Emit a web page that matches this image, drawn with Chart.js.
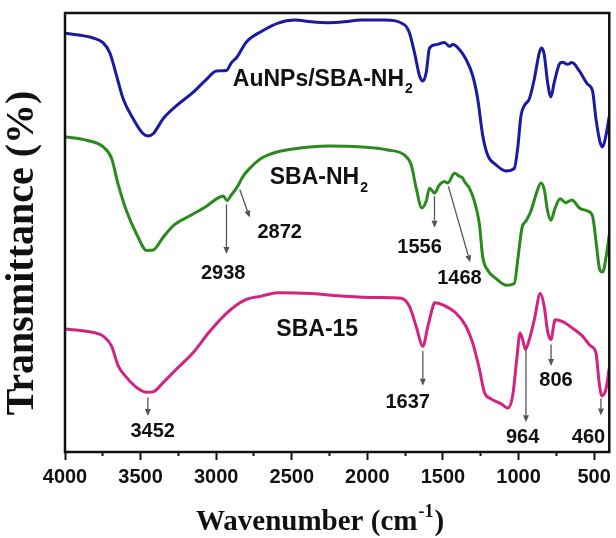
<!DOCTYPE html>
<html lang="en">
<head>
  <meta charset="UTF-8">
  <title>FTIR spectra</title>
  <script src="https://cdn.jsdelivr.net/npm/chart.js"></script>
  <style>
    html, body { margin: 0; padding: 0; background: #fff; }
    #wrap { width: 616px; height: 538px; }
  </style>
</head>
<body>
<div id="wrap"><canvas id="myChart"></canvas></div>
<script>
// wavenumber (cm-1) and transmittance (stacked, arbitrary units)
const auWavenumber = [4000, 3813, 3747, 3703, 3659, 3615, 3549, 3483, 3450, 3417, 3351, 3262, 3153, 3064, 2998, 2932, 2899, 2866, 2800, 2701, 2591, 2481, 2371, 2261, 2151, 2040, 1886, 1754, 1721, 1688, 1655, 1633, 1611, 1589, 1545, 1490, 1457, 1435, 1391, 1347, 1303, 1270, 1237, 1204, 1149, 1083, 1028, 1006, 984, 962, 929, 896, 863, 847, 830, 808, 786, 764, 731, 709, 676, 647, 598, 544, 511, 488, 462, 444, 422, 400];
const auTransmittance = [95.4, 94.3, 93.2, 90.9, 85.7, 80.4, 75.9, 72.5, 72.0, 72.5, 75.9, 78.9, 81.9, 84.9, 86.8, 86.9, 88.7, 89.8, 93.4, 95.8, 97.7, 98.4, 98.0, 97.8, 98.0, 98.4, 98.4, 97.3, 95.4, 90.9, 85.7, 84.5, 86.4, 92.0, 92.8, 93.3, 92.4, 92.8, 91.7, 89.4, 85.7, 80.4, 72.1, 67.6, 65.4, 64.0, 64.6, 69.1, 76.6, 78.9, 80.4, 84.9, 90.9, 92.0, 90.5, 84.2, 80.9, 84.2, 88.3, 88.8, 88.3, 88.7, 86.8, 83.8, 82.3, 75.9, 70.7, 69.5, 72.1, 76.5];

const nh2Wavenumber = [4000, 3857, 3747, 3692, 3648, 3593, 3526, 3460, 3417, 3351, 3285, 3174, 3064, 2987, 2954, 2928, 2899, 2866, 2822, 2778, 2701, 2591, 2481, 2261, 2040, 1865, 1754, 1710, 1677, 1640, 1611, 1589, 1556, 1523, 1490, 1468, 1424, 1391, 1369, 1358, 1325, 1292, 1259, 1237, 1204, 1149, 1083, 1028, 1006, 977, 951, 918, 885, 852, 830, 808, 786, 758, 725, 687, 647, 598, 544, 511, 488, 462, 444, 418, 400];
const nh2Transmittance = [71.8, 71.0, 69.5, 66.9, 60.9, 54.9, 49.6, 45.9, 46.0, 48.9, 51.5, 53.8, 56.0, 57.9, 58.3, 57.3, 58.6, 60.1, 62.8, 64.6, 66.9, 68.4, 69.1, 69.7, 69.5, 68.8, 67.6, 65.4, 60.1, 55.6, 57.1, 60.1, 59.0, 60.9, 61.6, 61.3, 63.5, 62.8, 62.4, 61.6, 60.1, 57.1, 51.9, 44.4, 41.4, 39.5, 38.0, 38.4, 43.6, 51.1, 52.6, 54.9, 58.6, 61.3, 59.8, 54.9, 52.8, 55.6, 57.7, 56.8, 57.4, 55.6, 54.9, 53.8, 48.1, 41.4, 41.0, 45.1, 49.5];

const sbaWavenumber = [4000, 3857, 3747, 3692, 3648, 3593, 3526, 3460, 3417, 3351, 3262, 3153, 3042, 2932, 2811, 2701, 2591, 2371, 2151, 1931, 1777, 1721, 1677, 1633, 1600, 1567, 1556, 1501, 1413, 1347, 1303, 1259, 1226, 1182, 1116, 1072, 1039, 1012, 990, 973, 955, 929, 896, 856, 830, 808, 786, 758, 709, 643, 577, 522, 488, 467, 449, 422, 400];
const sbaTransmittance = [28.0, 27.5, 26.4, 24.1, 19.6, 17.0, 14.7, 13.6, 13.7, 15.8, 18.9, 22.6, 27.5, 31.6, 34.6, 35.5, 36.3, 36.1, 35.5, 35.2, 35.0, 33.1, 28.6, 24.1, 28.6, 33.1, 34.0, 33.5, 31.6, 28.6, 24.8, 18.9, 13.6, 12.1, 11.0, 10.0, 12.8, 21.1, 27.1, 25.6, 23.4, 25.6, 30.1, 36.1, 33.1, 27.5, 25.6, 30.1, 29.7, 28.2, 26.4, 24.1, 22.6, 15.8, 12.8, 14.3, 19.2];

const seriesNames = ['AuNPs/SBA-NH\u2082', 'SBA-NH\u2082', 'SBA-15'];
const tickLabels = [4000, 3500, 3000, 2500, 2000, 1500, 1000, 500];
const minorTicks = [3750, 3250, 2750, 2250, 1750, 1250, 750];
const peakLabels = ['3452', '2938', '2872', '1556', '1468', '1637', '964', '806', '460'];

// where the names and peak arrows sit (data units)
const tags = [
  { text: 'AuNPs/SBA-NH', sub: '2', x: 2890, y: 84.9 },
  { text: 'SBA-NH', sub: '2', x: 2646, y: 62.4 },
  { text: 'SBA-15', sub: '', x: 2602, y: 27.9 }
];
const arrows = [
  { from: [3452, 12.4], to: [3452, 8.2], at: [3420, 4.6] },
  { from: [2932, 56.4], to: [2932, 45.1], at: [2954, 40.6] },
  { from: [2844, 59.8], to: [2778, 53.4], at: [2580, 50.0] },
  { from: [1556, 58.3], to: [1556, 51.1], at: [1655, 46.6] },
  { from: [1464, 60.5], to: [1320, 43.2], at: [1391, 39.5] },
  { from: [1633, 23.0], to: [1633, 15.1], at: [1733, 11.3] },
  { from: [951, 24.1], to: [951, 6.8], at: [973, 3.4] },
  { from: [785, 24.5], to: [785, 19.6], at: [752, 16.2] },
  { from: [455, 12.2], to: [455, 8.3], at: [537, 3.4] }
];

const sans = '"Liberation Sans", Arial, sans-serif';
const serif = '"Liberation Serif", "Times New Roman", serif';

function pairs(xs, ys) {
  return xs.map((v, i) => ({ x: v, y: ys[i] }));
}

function drawArrow(ctx, x1, y1, x2, y2) {
  const ang = Math.atan2(y2 - y1, x2 - x1), h = 7, w = 3;
  ctx.beginPath();
  ctx.moveTo(x1, y1);
  ctx.lineTo(x2 - h * Math.cos(ang), y2 - h * Math.sin(ang));
  ctx.stroke();
  ctx.beginPath();
  ctx.moveTo(x2, y2);
  ctx.lineTo(x2 - h * Math.cos(ang) + w * Math.sin(ang), y2 - h * Math.sin(ang) - w * Math.cos(ang));
  ctx.lineTo(x2 - h * Math.cos(ang) - w * Math.sin(ang), y2 - h * Math.sin(ang) + w * Math.cos(ang));
  ctx.closePath();
  ctx.fill();
}

const notesPlugin = {
  id: 'notes',
  afterDatasetsDraw(chart) {
    const { ctx, chartArea: a, scales: { x, y } } = chart;
    ctx.save();
    ctx.lineWidth = 2.5;
    ctx.strokeStyle = '#111';
    ctx.strokeRect(a.left, a.top, a.right - a.left, a.bottom - a.top);

    ctx.fillStyle = '#111';
    ctx.textBaseline = 'middle';
    ctx.textAlign = 'left';
    tags.forEach(t => {
      const px = x.getPixelForValue(t.x), py = y.getPixelForValue(t.y);
      ctx.font = 'bold 23px ' + sans;
      ctx.fillText(t.text, px, py);
      if (t.sub) {
        const w = ctx.measureText(t.text).width;
        ctx.font = 'bold 14px ' + sans;
        ctx.fillText(t.sub, px + w + 1, py + 10);
      }
    });

    ctx.strokeStyle = '#555';
    ctx.fillStyle = '#555';
    ctx.lineWidth = 1.3;
    arrows.forEach(ar => {
      drawArrow(ctx, x.getPixelForValue(ar.from[0]), y.getPixelForValue(ar.from[1]),
        x.getPixelForValue(ar.to[0]), y.getPixelForValue(ar.to[1]));
    });
    ctx.fillStyle = '#111';
    ctx.textAlign = 'center';
    ctx.font = 'bold 20px ' + sans;
    arrows.forEach((ar, i) => {
      ctx.fillText(peakLabels[i], x.getPixelForValue(ar.at[0]), y.getPixelForValue(ar.at[1]));
    });

    // axis titles
    ctx.textAlign = 'left';
    ctx.textBaseline = 'alphabetic';
    ctx.font = 'bold 29px ' + serif;
    const main = 'Wavenumber (cm', sup = '-1', tail = ')';
    ctx.font = 'bold 18px ' + serif;
    const wSup = ctx.measureText(sup).width;
    ctx.font = 'bold 29px ' + serif;
    const wMain = ctx.measureText(main).width, wTail = ctx.measureText(tail).width;
    let tx = 320 - (wMain + wSup + wTail + 2) / 2;
    const ty = 530;
    ctx.fillText(main, tx, ty);
    tx += wMain + 1;
    ctx.font = 'bold 18px ' + serif;
    ctx.fillText(sup, tx, ty - 13);
    tx += wSup + 1;
    ctx.font = 'bold 29px ' + serif;
    ctx.fillText(tail, tx, ty);

    ctx.translate(23, 253);
    ctx.rotate(-Math.PI / 2);
    ctx.textAlign = 'center';
    ctx.textBaseline = 'middle';
    ctx.font = 'bold 40px ' + serif;
    ctx.fillText('Transmittance (%)', 0, 0);
    ctx.restore();
  }
};

const line = (label, data, color) => ({
  label: label,
  data: data,
  borderColor: color,
  borderWidth: 3,
  pointRadius: 0,
  fill: false,
  cubicInterpolationMode: 'monotone'
});

const ctx = document.getElementById('myChart').getContext('2d');
const chart = new Chart(ctx, {
  type: 'line',
  data: {
    datasets: [
      line(seriesNames[0], pairs(auWavenumber, auTransmittance), '#1a1aa2'),
      line(seriesNames[1], pairs(nh2Wavenumber, nh2Transmittance), '#2a8a1e'),
      line(seriesNames[2], pairs(sbaWavenumber, sbaTransmittance), '#d42280')
    ]
  },
  options: {
    responsive: true,
    maintainAspectRatio: false,
    animation: false,
    layout: { padding: { top: 13, right: 6, left: 65, bottom: 44 } },
    plugins: { legend: { display: false }, tooltip: { enabled: false } },
    scales: {
      x: {
        type: 'linear',
        reverse: true,
        min: 400,
        max: 4000,
        border: { display: false },
        afterBuildTicks: scale => {
          scale.ticks = tickLabels.concat(minorTicks)
            .sort((p, q) => q - p)
            .map(v => ({ value: v }));
        },
        grid: {
          drawOnChartArea: false,
          drawTicks: true,
          tickLength: 8,
          tickWidth: 2,
          tickColor: '#111',
          tickBorderDash: c => (c.tick && tickLabels.includes(c.tick.value)) ? [] : [4, 20]
        },
        ticks: {
          padding: 5,
          color: '#111',
          font: { family: sans, size: 20, weight: 'bold' },
          maxRotation: 0,
          autoSkip: false,
          callback: v => tickLabels.includes(v) ? String(v) : ''
        },
        title: { display: false }
      },
      y: {
        display: false,
        min: 0,
        max: 100
      }
    }
  },
  plugins: [notesPlugin]
});
</script>
</body>
</html>
